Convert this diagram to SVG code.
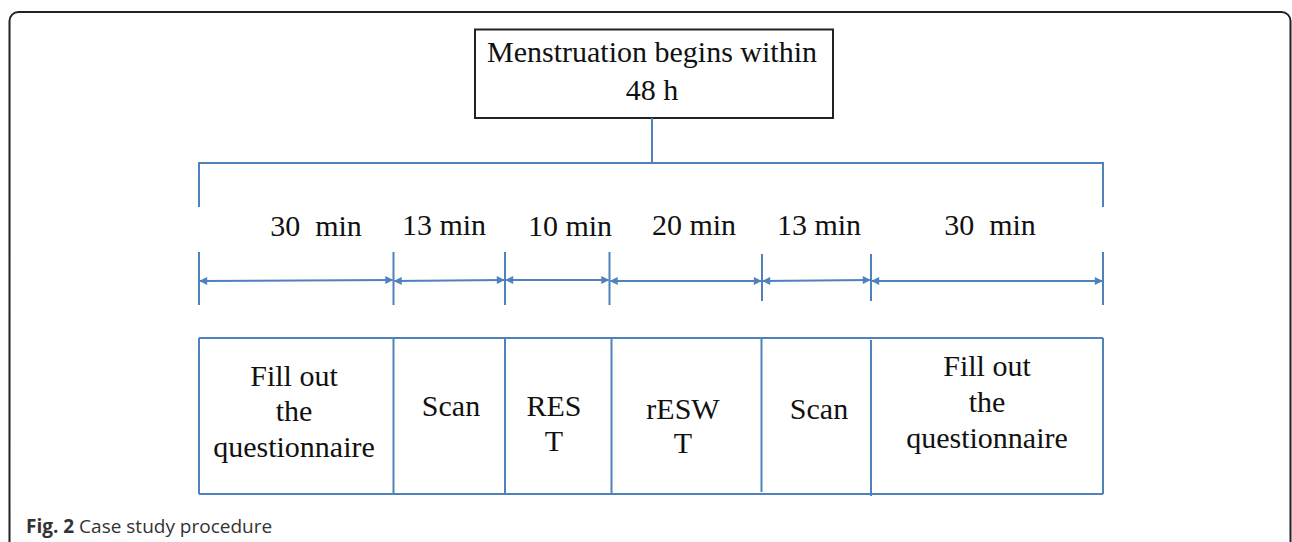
<svg xmlns="http://www.w3.org/2000/svg" width="1292" height="542" viewBox="0 0 1292 542">
<style>
.t{font-family:"Liberation Serif","Times New Roman",serif;font-size:30px;fill:#111;text-anchor:middle;white-space:pre}
.b{stroke:#4f81bd;stroke-width:2;fill:none}
.cap{font-family:"Open Sans","Liberation Sans",sans-serif;font-size:19px;fill:#333}
</style>
<defs>
<marker id="ah" viewBox="0 0 10 10" refX="9" refY="5" markerWidth="10" markerHeight="8" markerUnits="userSpaceOnUse" orient="auto-start-reverse">
<path d="M0,0 L10,5 L0,10 z" fill="#4f81bd"/>
</marker>
</defs>
<rect x="0" y="0" width="1292" height="542" fill="#fff"/>
<rect x="9.5" y="12" width="1281" height="540" rx="9" fill="none" stroke="#222" stroke-width="2"/>

<g id="top">
<rect x="475" y="29.5" width="358" height="88.5" fill="#fff" stroke="#222" stroke-width="2"/>
<text class="t" x="652" y="62">Menstruation begins within</text>
<text class="t" x="652" y="100">48 h</text>
</g>

<g id="connectors">
<line class="b" x1="652" y1="118" x2="652" y2="163"/>
<path class="b" d="M199,207 V163 H1103 V207" stroke="#6d96cc" stroke-width="2.5"/>
<g class="b">
<line x1="199" y1="252" x2="199" y2="305"/>
<line x1="393.5" y1="252" x2="393.5" y2="305"/>
<line x1="505" y1="252" x2="505" y2="305"/>
<line x1="609.5" y1="252" x2="609.5" y2="305"/>
<line x1="762" y1="254" x2="762" y2="301"/>
<line x1="871" y1="254" x2="871" y2="301"/>
<line x1="1103" y1="252" x2="1103" y2="305"/>
</g>
<g class="b" marker-start="url(#ah)" marker-end="url(#ah)">
<line x1="200" y1="281" x2="392.5" y2="280"/>
<line x1="394.5" y1="281" x2="504" y2="280"/>
<line x1="506" y1="280" x2="608.5" y2="280"/>
<line x1="610.5" y1="281" x2="761" y2="281"/>
<line x1="763" y1="281" x2="870" y2="280"/>
<line x1="872" y1="281" x2="1102" y2="281"/>
</g>
</g>

<g id="durations">
<text class="t" x="316" y="236" xml:space="preserve">30  min</text>
<text class="t" x="444" y="235">13 min</text>
<text class="t" x="570" y="236">10 min</text>
<text class="t" x="694" y="235">20 min</text>
<text class="t" x="819" y="235">13 min</text>
<text class="t" x="990" y="235" xml:space="preserve">30  min</text>
</g>

<g id="steps">
<path class="b" d="M199,338 H1103 M199,494 H1103 M199,338 V494 M1103,338 V494"/>
<g id="s1">
<line class="b" x1="393.5" y1="338" x2="393.5" y2="493"/>
<text class="t" x="294" y="386">Fill out</text>
<text class="t" x="294" y="421">the</text>
<text class="t" x="294" y="457">questionnaire</text>
</g>
<g id="s2">
<line class="b" x1="505" y1="338" x2="505" y2="494"/>
<text class="t" x="451" y="416">Scan</text>
</g>
<g id="s3">
<line class="b" x1="611.5" y1="338" x2="611.5" y2="494"/>
<text class="t" x="554" y="416">RES</text>
<text class="t" x="554" y="451">T</text>
</g>
<g id="s4">
<line class="b" x1="761.5" y1="338" x2="761.5" y2="492"/>
<text class="t" x="683" y="419">rESW</text>
<text class="t" x="683" y="453">T</text>
</g>
<g id="s5">
<line class="b" x1="871" y1="340" x2="871" y2="496"/>
<text class="t" x="819" y="419">Scan</text>
</g>
<g id="s6">
<text class="t" x="987" y="376">Fill out</text>
<text class="t" x="987" y="412">the</text>
<text class="t" x="987" y="448">questionnaire</text>
</g>
</g>

<text class="cap" x="26" y="533"><tspan font-weight="bold">Fig. 2</tspan> Case study procedure</text>
</svg>
